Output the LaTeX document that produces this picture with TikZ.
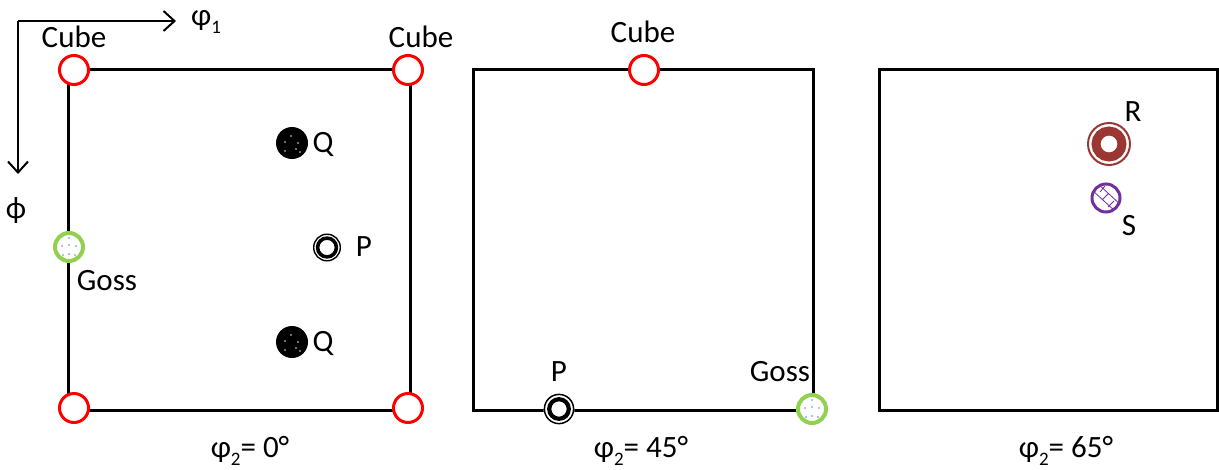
\documentclass[tikz,border=0pt]{standalone}
\usepackage{fontspec}
\setmainfont{Carlito}
\usetikzlibrary{arrows.meta}
\definecolor{cubered}{RGB}{255,0,0}
\definecolor{gossgreen}{RGB}{146,208,80}
\definecolor{dotblue}{RGB}{90,140,210}
\definecolor{rbrown}{RGB}{155,55,50}
\definecolor{spurple}{RGB}{112,48,160}
\newcommand\lsub[1]{\raisebox{-0.28em}{\fontsize{19}{19}\selectfont #1}}
\begin{document}
\begin{tikzpicture}[x=1pt,y=-1pt,font=\fontsize{31}{33}\selectfont,
  frame/.style={draw=black,line width=3pt},
  lbl/.style={inner sep=0pt,text=black},
  cube/.style={circle,draw=cubered,line width=3pt,minimum size=29pt,inner sep=0pt,fill=white},
  goss/.style={circle,draw=gossgreen,line width=4pt,minimum size=28pt,inner sep=0pt,fill=white},
  qdot/.style={circle,fill=black,minimum size=32pt,inner sep=0pt},
  pmark/.style={circle,minimum size=28pt,inner sep=0pt},
  axis/.style={line width=2pt,-{Straight Barb[length=11pt,width=20pt,line width=2pt]}}]
\useasboundingbox (0,0) rectangle (1219,469);
% axes
\coordinate (o) at (18,21);
\coordinate (xend) at (176,21);
\coordinate (yend) at (18,174);
\draw[axis] (o) -- (xend);
\draw[axis] (o) -- (yend);
\node[lbl] (phi1) at (206,22) {φ\lsub{1}};
\node[lbl] (phiax) at (16,211) {ϕ};
% frames
\draw[frame] (68,69) rectangle (410,410);
\draw[frame] (473,69) rectangle (813,410);
\draw[frame] (879,69) rectangle (1217,410);
% cube orientations
\node[cube] (c1) at (74,70) {};
\node[cube] (c2) at (408,70) {};
\node[cube] (c3) at (74,408) {};
\node[cube] (c4) at (408,408) {};
\node[cube] (c5) at (644,70) {};
\node[lbl] (lc1) at (74,37) {Cube};
\node[lbl] (lc2) at (421,37) {Cube};
\node[lbl] (lc5) at (643,32) {Cube};
% goss
\node[goss] (g1) at (69,247) {};
\node[goss] (g2) at (812,409) {};
\foreach \g in {g1,g2}{
  \foreach \dx/\dy in {0/-7,-7/1,0/2,7/1,0/9,-6/-8,6/-8}{
    \fill[dotblue] ([shift={(\dx pt,\dy pt)}]\g.center) circle (0.9pt);
  }
}
\node[lbl] (lg1) at (107,281) {Goss};
\node[lbl] (lg2) at (780,372) {Goss};
% Q
\node[qdot] (q1) at (292,143) {};
\node[qdot] (q2) at (292,342) {};
\foreach \q in {q1,q2}{
  \foreach \dx/\dy in {-7/-8,4/-6,-7/1,6/0,-1/7,8/-9}{
    \fill[white!75!gray] ([shift={(\dx pt,\dy pt)}]\q.center) circle (0.9pt);
  }
}
\node[lbl] (lq1) at (323,144) {Q};
\node[lbl] (lq2) at (323,343) {Q};
% P
\node[pmark] (p1) at (327,247.5) {};
\fill[white] (p1.center) circle (14pt);
\draw[black,line width=1.4pt] (p1.center) circle (13.3pt);
\draw[black,line width=3.6pt] (p1.center) circle (9.4pt);
\node[pmark] (p2) at (559,409) {};
\fill[white] (p2.center) circle (15.5pt);
\draw[black,line width=1.5pt] (p2.center) circle (14.6pt);
\draw[black,line width=4.2pt] (p2.center) circle (9.8pt);
\node[lbl] (lp1) at (364,247) {P};
\node[lbl] (lp2) at (559,372) {P};
% R
\node[circle,minimum size=42pt,inner sep=0pt] (r) at (1109,144) {};
\draw[rbrown,line width=2pt] (r.center) circle (21pt);
\draw[rbrown,line width=9pt] (r.center) circle (13pt);
\node[lbl] (lr) at (1133,112) {R};
% S
\node[circle,minimum size=28pt,inner sep=0pt] (s) at (1106,198) {};
\begin{scope}
  \clip (s.center) circle (14pt);
  \draw[spurple,line width=0.8pt]
    ([shift={(-14pt,8pt)}]s.center) -- ([shift={(10pt,-14pt)}]s.center)
    ([shift={(-10pt,16pt)}]s.center) -- ([shift={(16pt,-8pt)}]s.center)
    ([shift={(-4pt,-2pt)}]s.center) -- ([shift={(2pt,4pt)}]s.center)
    ([shift={(2pt,-9pt)}]s.center) -- ([shift={(8pt,-3pt)}]s.center)
    ([shift={(-6pt,6pt)}]s.center) -- ([shift={(-1pt,12pt)}]s.center);
\end{scope}
\draw[spurple,line width=3pt] (s.center) circle (14pt);
\node[lbl] (ls) at (1129,226) {S};
% captions
\node[lbl] (cap1) at (250,451) {φ\lsub{2}= 0°};
\node[lbl] (cap2) at (641,451) {φ\lsub{2}= 45°};
\node[lbl] (cap3) at (1066,451) {φ\lsub{2}= 65°};
\end{tikzpicture}
\end{document}
